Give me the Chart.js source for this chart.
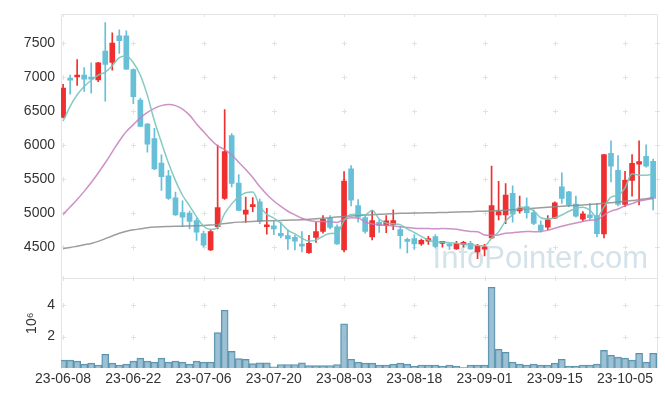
<!DOCTYPE html>
<html>
<head>
<meta charset="utf-8">
<script src="https://cdn.jsdelivr.net/npm/chart.js@4.4.0/dist/chart.umd.min.js"></script>
<style>
html,body{margin:0;padding:0;background:#fff;}
canvas{display:block;}
</style>
</head>
<body>
<canvas id="c" width="665" height="396"></canvas>
<script>
// ---- data (trading days) ----
const dates = ['23-06-08','23-06-09','23-06-12','23-06-13','23-06-14','23-06-15','23-06-16','23-06-19','23-06-20','23-06-21',
'23-06-22','23-06-23','23-06-26','23-06-27','23-06-28','23-06-29','23-06-30','23-07-03','23-07-04','23-07-05',
'23-07-06','23-07-07','23-07-10','23-07-11','23-07-12','23-07-13','23-07-14','23-07-17','23-07-18','23-07-19',
'23-07-20','23-07-21','23-07-24','23-07-25','23-07-26','23-07-27','23-07-28','23-07-31','23-08-01','23-08-02',
'23-08-03','23-08-04','23-08-07','23-08-08','23-08-09','23-08-10','23-08-11','23-08-14','23-08-16','23-08-17',
'23-08-18','23-08-21','23-08-22','23-08-23','23-08-24','23-08-25','23-08-28','23-08-29','23-08-30','23-08-31',
'23-09-01','23-09-04','23-09-05','23-09-06','23-09-07','23-09-08','23-09-11','23-09-12','23-09-13','23-09-14',
'23-09-15','23-09-18','23-09-19','23-09-20','23-09-21','23-09-22','23-09-25','23-09-26','23-09-27','23-10-04',
'23-10-05','23-10-06','23-10-10','23-10-11','23-10-12'];

const opens  = [6411,6970,7000,7030,6980,6957,7380,7213,7605,7605, 7110,6660,6310,6095,5735,5550,5225,5010,5000,4890,
4700,4460,4800,5215,6140,5440,4985,5095,5165,4800, 4815,4705,4670,4645,4525,4418,4645,4732,4925,4800,
4461,5650,5110,4935,4650,4865,4815,4830,4757,4590, 4625,4548,4587,4655,4555,4540,4475,4540,4555,4432,
4471,4635,4975,4975,5290,5032,5095,5008,4823,4795, 4925,5385,5313,5134,4911,4974,4964,4693,5878,5628,
5128,5482,5720,5835,5762];
const highs  = [6894,7029,7257,7137,7209,7215,7800,7650,7695,7680, 7120,6690,6320,6245,5855,5630,5310,5180,5030,4925,
4735,4760,6000,6520,6170,5565,5235,5230,5205,5070, 4877,4865,4750,4675,4730,4675,4865,4965,4965,4830,
5612,5700,5200,4965,5040,4900,4965,5047,4805,4635, 4685,4620,4660,4685,4587,4548,4587,4587,4587,4540,
4540,5690,5468,5435,5400,5250,5225,5047,4887,4965, 5165,5593,5320,5250,5022,5143,5143,5860,6063,5845,
5613,5860,6063,6005,5795];
const lows   = [6400,6749,6875,6788,6764,6930,6645,7100,7345,7110, 6610,6270,5895,5640,5335,5200,4965,4805,4770,4600,
4505,4450,4770,5200,5385,5035,4865,5020,4845,4690, 4685,4635,4467,4460,4430,4410,4570,4705,4770,4540,
4432,5105,4867,4705,4605,4718,4713,4757,4480,4417, 4467,4525,4540,4490,4500,4467,4467,4500,4467,4330,
4370,4625,4900,4845,4867,4998,4925,4830,4722,4757, 4920,5143,5095,4940,4887,4902,4650,4635,5458,5105,
5095,5250,5120,5675,5047];
const closes = [6836,6955,7030,6970,6970,7210,7185,7500,7535,7115, 6710,6275,6015,5650,5535,5215,4975,4940,4877,4720,
4530,4730,5080,5905,5435,5040,5045,5125,4877,4823, 4770,4665,4620,4590,4515,4558,4730,4910,4790,4548,
5470,5190,4940,4732,4890,4815,4887,4892,4670,4585, 4548,4600,4625,4510,4577,4520,4555,4563,4475,4515,
4504,5110,5022,5265,4985,5070,5008,4848,4747,4902, 5153,5215,5120,4955,4989,4935,4699,5860,5690,5128,
5482,5733,5757,5690,5215];

const ma5  = [6353,6570,6739,6861,6952,7027,7073,7167,7286,7309, 7209,7027,6730,6353,6037,5738,5478,5263,5108,4945,
4808,4759,4787,4993,5136,5238,5301,5310,5104,4982, 4928,4852,4751,4694,4632,4590,4603,4661,4701,4707,
4890,4982,4988,4976,5044,4913,4853,4843,4831,4770, 4716,4659,4606,4574,4572,4566,4557,4545,4538,4526,
4522,4633,4725,4883,4977,5090,5070,5035,4932,4915, 4932,4973,5027,5069,5086,5043,4940,5088,5235,5262,
5372,5579,5558,5558,5575];
const ma20 = [4983,5090,5200,5320,5450,5590,5740,5900,6060,6200, 6300,6400,6480,6540,6580,6595,6580,6530,6440,6311,
6196,6084,5987,5934,5857,5748,5641,5523,5390,5275, 5178,5098,5028,4975,4924,4891,4879,4877,4873,4864,
4911,4934,4927,4869,4841,4830,4822,4811,4800,4788, 4777,4774,4774,4770,4773,4771,4763,4745,4730,4728,
4680,4676,4680,4706,4711,4724,4730,4728,4732,4747, 4778,4808,4833,4855,4876,4897,4904,4969,5030,5060,
5109,5140,5177,5198,5210];
const ma60 = [4480,4495,4515,4535,4555,4585,4625,4665,4705,4735, 4755,4770,4785,4795,4800,4803,4806,4809,4812,4815,
4818,4825,4835,4847,4860,4868,4873,4878,4883,4887, 4890,4893,4896,4899,4902,4910,4918,4926,4934,4942,
4950,4958,4965,4971,4977,4982,4987,4992,4997,4999, 5001,5003,5005,5007,5009,5012,5015,5019,5022,5026,
5029,5033,5037,5044,5051,5058,5065,5072,5079,5086, 5093,5100,5107,5114,5121,5128,5134,5144,5154,5164,
5174,5184,5198,5212,5225];

const volumes = [500000,500000,440000,250000,310000,190000,875000,310000,190000,250000,
440000,625000,440000,375000,625000,375000,440000,375000,250000,440000,
375000,375000,2250000,3690000,1060000,600000,550000,280000,330000,330000,
80000,220000,220000,220000,330000,150000,150000,150000,160000,220000,
2810000,560000,375000,310000,310000,190000,190000,250000,310000,250000,
125000,190000,190000,190000,125000,190000,120000,30000,190000,190000,
190000,5140000,1190000,1000000,375000,250000,190000,250000,190000,190000,
310000,560000,125000,125000,190000,190000,250000,1125000,810000,690000,
625000,500000,940000,375000,940000];

const xTickIndex = [0,10,20,30,40,50,60,70,80];
const priceTicks = [4500,5000,5500,6000,6500,7000,7500];
const volumeTicks = [2000000,4000000];

// ---- styles ----
const UP = '#ee3030', DOWN = '#68c0d8';
const FONT = 'Liberation Sans';
const idx = dates.map((d,i)=>i);
const candleColors = closes.map((c,i)=> c >= opens[i] ? UP : DOWN);

const decor = {
  id:'decor',
  beforeDatasetsDraw(chart){
    const {ctx, chartArea:ca} = chart;
    const xs = chart.scales.x, yp = chart.scales.y, yv = chart.scales.yv;
    ctx.save();
    // watermark
    ctx.font = '31px "'+FONT+'"';
    ctx.fillStyle = 'rgba(170,198,214,0.5)';
    ctx.textAlign = 'right'; ctx.textBaseline = 'alphabetic';
    ctx.fillText('InfoPointer.com', ca.right - 9, yp.bottom - 10);
    // borders
    ctx.strokeStyle = '#e4e4e4'; ctx.lineWidth = 1;
    ctx.beginPath();
    ctx.moveTo(ca.left, Math.round(ca.top)+0.5); ctx.lineTo(ca.right, Math.round(ca.top)+0.5);
    ctx.moveTo(Math.round(ca.right)+0.5, ca.top); ctx.lineTo(Math.round(ca.right)+0.5, ca.bottom);
    ctx.moveTo(ca.left, Math.round(yp.bottom)+0.5); ctx.lineTo(ca.right, Math.round(yp.bottom)+0.5);
    ctx.stroke();
    // crosses at tick intersections
    ctx.strokeStyle = '#e2e2e2';
    const px = xs.ticks.map(t => Math.round(xs.getPixelForValue(t.value))+0.5);
    const drawCross = (x,y)=>{ ctx.moveTo(x-2.5,y); ctx.lineTo(x+2.5,y); ctx.moveTo(x,y-2.5); ctx.lineTo(x,y+2.5); };
    ctx.beginPath();
    for (const s of [yp, yv]) {
      for (const t of s.ticks) {
        if (t.value === 0) continue;
        const py = Math.round(s.getPixelForValue(t.value))+0.5;
        px.forEach(x=>drawCross(x,py));
        drawCross(Math.round(ca.right)+0.5, py);
      }
    }
    for (const x of px) {
      ctx.moveTo(x, Math.round(ca.top)+0.5); ctx.lineTo(x, Math.round(ca.top)+3);
      ctx.moveTo(x, Math.round(yp.bottom)-2); ctx.lineTo(x, Math.round(yp.bottom)+3);
    }
    ctx.stroke();
    ctx.restore();
  }
};

new Chart(document.getElementById('c'), {
  data: {
    datasets: [
      { type:'line', label:'MA5', data: idx.map(i=>({x:i, y:ma5[i]})), yAxisID:'y',
        borderColor:'rgba(120,196,188,0.9)', borderWidth:1.5, pointRadius:0, cubicInterpolationMode:'monotone', order:0 },
      { type:'line', label:'MA20', data: idx.map(i=>({x:i, y:ma20[i]})), yAxisID:'y',
        borderColor:'rgba(196,126,190,0.85)', borderWidth:1.5, pointRadius:0, cubicInterpolationMode:'monotone', order:0 },
      { type:'line', label:'MA60', data: idx.map(i=>({x:i, y:ma60[i]})), yAxisID:'y',
        borderColor:'rgba(140,140,140,0.85)', borderWidth:1.5, pointRadius:0, cubicInterpolationMode:'monotone', order:0 },
      { type:'bar', label:'wick', data: idx.map(i=>({x:i, y:[lows[i], highs[i]]})), yAxisID:'y',
        backgroundColor: candleColors, borderWidth:0, barThickness:1, grouped:false, order:1 },
      { type:'bar', label:'body', data: idx.map(i=>({x:i, y:[opens[i], closes[i]]})), yAxisID:'y',
        backgroundColor: candleColors, borderWidth:0, barThickness:5, minBarLength:2, grouped:false, order:1 },
      { type:'bar', label:'volume', data: idx.map(i=>({x:i, y:volumes[i]})), yAxisID:'yv',
        backgroundColor:'rgba(130,176,200,0.78)', borderColor:'#5b93ad', borderWidth:1,
        barPercentage:1, categoryPercentage:1, grouped:false, order:2 }
    ]
  },
  options: {
    responsive:false, animation:false, devicePixelRatio:1,
    layout:{ padding:{ top:6, right:8, left:0, bottom:0 } },
    plugins:{ legend:{display:false}, tooltip:{enabled:false} },
    scales: {
      x: { type:'linear', min:-0.3, max:84.55, offset:false,
        afterBuildTicks: s => { s.ticks = xTickIndex.map(v=>({value:v})); },
        ticks:{ callback: v => dates[v], autoSkip:false, maxRotation:0, padding:3,
          font:{family:FONT, size:14}, color:'#333' },
        grid:{display:false, drawTicks:false, offset:false}, border:{display:false},
        afterFit: s => { s.height = 28; } },
      yv: { type:'linear', position:'left', stack:'main', stackWeight:1, min:0, max:5700000,
        afterBuildTicks: s => { s.ticks = volumeTicks.map(v=>({value:v})); },
        ticks:{ callback: v => String(v/1000000), padding:6, font:{family:FONT, size:14}, color:'#333' },
        title:{ display:true, text:'10⁶', padding:{top:24, bottom:0}, font:{family:FONT, size:14}, color:'#333' },
        grid:{display:false, drawTicks:false}, border:{display:true, color:'#e4e4e4'},
        afterFit: s => { s.width = 61; } },
      y: { type:'linear', position:'left', stack:'main', stackWeight:2.95, min:4040, max:7920,
        afterBuildTicks: s => { s.ticks = priceTicks.map(v=>({value:v})); },
        ticks:{ callback: v => String(v), padding:6, font:{family:FONT, size:14}, color:'#333' },
        grid:{display:false, drawTicks:false}, border:{display:true, color:'#e4e4e4'},
        afterFit: s => { s.width = 61; } }
    }
  },
  plugins:[decor]
});
</script>
</body>
</html>
